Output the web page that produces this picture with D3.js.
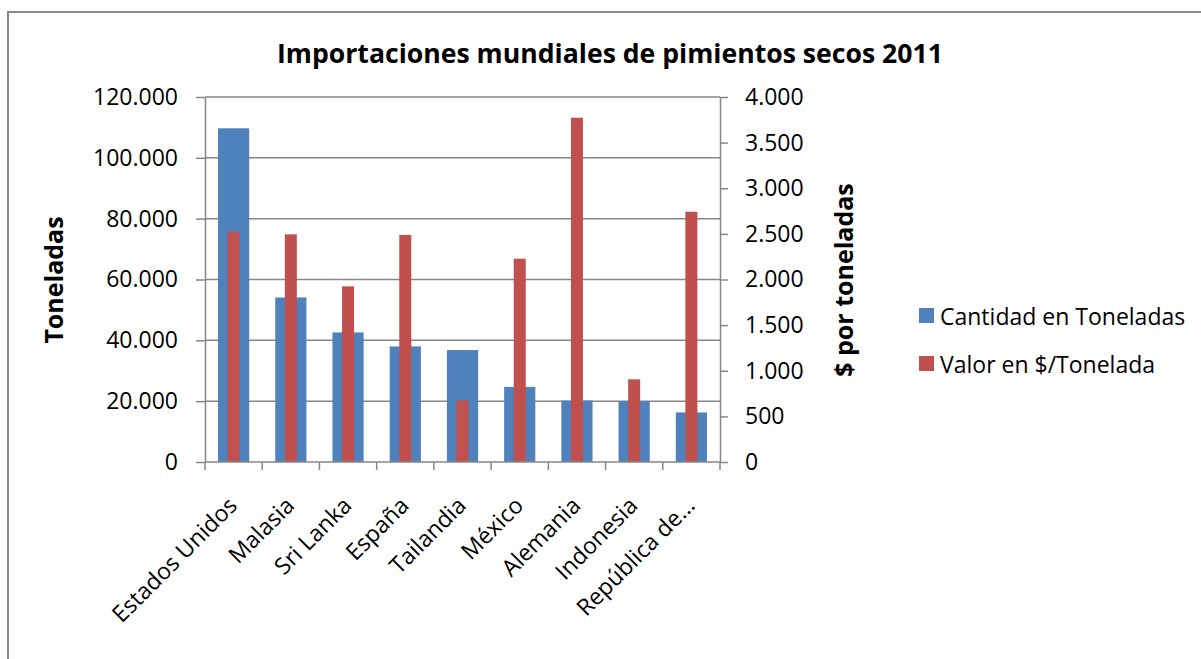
<!DOCTYPE html>
<html>
<head>
<meta charset="utf-8">
<script src="https://cdn.jsdelivr.net/npm/d3@7/dist/d3.min.js"></script>
<style>
  html, body { margin: 0; padding: 0; background: #fff; }
  svg { display: block; }
  text { font-family: "Open Sans", "Noto Sans", sans-serif; fill: #000; }
</style>
</head>
<body>
<svg id="chart" width="1201" height="659"></svg>
<script>
// ---- Data ----
const categories = ["Estados Unidos", "Malasia", "Sri Lanka", "España", "Tailandia", "México", "Alemania", "Indonesia", "República de..."];
const cantidadToneladas = [109700, 54100, 42600, 38000, 36800, 24700, 20200, 20000, 16300];
const valorPorTonelada = [2524, 2495, 1925, 2488, 676, 2228, 3773, 906, 2743];
const leftTicks = [0, 20000, 40000, 60000, 80000, 100000, 120000];
const rightTicks = [0, 500, 1000, 1500, 2000, 2500, 3000, 3500, 4000];
const seriesNames = ["Cantidad en Toneladas", "Valor en $/Tonelada"];
const title = "Importaciones mundiales de pimientos secos 2011";
const leftTitle = "Toneladas";
const rightTitle = "$ por toneladas";

// ---- Layout ----
const colors = ["#4F81BD", "#C0504D"];
const gridColor = "#878787";
const plot = { left: 205, right: 720, top: 97, bottom: 462 };

const svg = d3.select("#chart");
const loc = d3.formatLocale({ decimal: ",", thousands: ".", grouping: [3], currency: ["$", ""] });
const fmt = loc.format(",d");

// outer border
svg.append("rect")
  .attr("x", 8).attr("y", 12).attr("width", 1200).attr("height", 660)
  .attr("fill", "none").attr("stroke", gridColor).attr("stroke-width", 2);

const x = d3.scaleBand().domain(categories).range([plot.left, plot.right]).paddingInner(0).paddingOuter(0);
const yL = d3.scaleLinear().domain([0, 120000]).range([plot.bottom, plot.top]);
const yR = d3.scaleLinear().domain([0, 4000]).range([plot.bottom, plot.top]);

// gridlines
svg.append("g").selectAll("line")
  .data(leftTicks.filter(d => d > 0))
  .join("line")
  .attr("x1", plot.left).attr("x2", plot.right)
  .attr("y1", d => yL(d)).attr("y2", d => yL(d))
  .attr("stroke", gridColor).attr("stroke-width", 1.5);

// bars
const bw = x.bandwidth();
const blueW = bw * 0.545, redW = bw * 0.21;
svg.append("g").selectAll("rect")
  .data(categories)
  .join("rect")
  .attr("x", (d) => x(d) + (bw - blueW) / 2)
  .attr("width", blueW)
  .attr("y", (d, i) => yL(cantidadToneladas[i]))
  .attr("height", (d, i) => yL(0) - yL(cantidadToneladas[i]))
  .attr("fill", colors[0]);
svg.append("g").selectAll("rect")
  .data(categories)
  .join("rect")
  .attr("x", (d) => x(d) + (bw - redW) / 2)
  .attr("width", redW)
  .attr("y", (d, i) => yR(valorPorTonelada[i]))
  .attr("height", (d, i) => yR(0) - yR(valorPorTonelada[i]))
  .attr("fill", colors[1]);

function styleAxis(g) {
  g.selectAll("path.domain").attr("stroke", gridColor).attr("stroke-width", 1.5);
  g.selectAll(".tick line").attr("stroke", gridColor).attr("stroke-width", 1.5);
  g.selectAll(".tick text").attr("font-size", 23).attr("fill", "#000")
    .attr("font-family", '"Open Sans", sans-serif');
}

// left axis
const gL = svg.append("g").attr("transform", `translate(${plot.left},0)`)
  .call(d3.axisLeft(yL).tickValues(leftTicks).tickFormat(fmt).tickSizeInner(9).tickSizeOuter(0).tickPadding(18));
styleAxis(gL);

// right axis
const gR = svg.append("g").attr("transform", `translate(${plot.right},0)`)
  .call(d3.axisRight(yR).tickValues(rightTicks).tickFormat(fmt).tickSizeInner(8).tickSizeOuter(0).tickPadding(17));
styleAxis(gR);

// bottom axis (ticks at category boundaries)
const gB = svg.append("g").attr("transform", `translate(0,${plot.bottom})`);
gB.append("line").attr("x1", plot.left).attr("x2", plot.right).attr("y1", 0).attr("y2", 0)
  .attr("stroke", gridColor).attr("stroke-width", 1.5);
const boundaries = categories.map(c => x(c)).concat([x(categories[categories.length - 1]) + bw]);
gB.selectAll("line.tk").data(boundaries).join("line").attr("class", "tk")
  .attr("x1", d => d).attr("x2", d => d).attr("y1", 0).attr("y2", 8)
  .attr("stroke", gridColor).attr("stroke-width", 1.5);

// category labels
svg.append("g").selectAll("text")
  .data(categories)
  .join("text")
  .attr("transform", d => `translate(${x(d) + bw / 2 + 5},507) rotate(-45)`)
  .attr("text-anchor", "end")
  .attr("font-size", 23)
  .text(d => d);

// title
const t = svg.append("text")
  .attr("x", 277).attr("y", 63)
  .attr("font-size", 27).attr("font-weight", "bold")
  .text(title);
const tl = t.node().getComputedTextLength();
if (tl > 666) t.attr("textLength", 666).attr("lengthAdjust", "spacingAndGlyphs");

// axis titles
svg.append("text")
  .attr("transform", "translate(63,280) rotate(-90)")
  .attr("text-anchor", "middle")
  .attr("font-size", 25).attr("font-weight", "bold")
  .text(leftTitle);
svg.append("text")
  .attr("transform", "translate(853,280) rotate(-90)")
  .attr("text-anchor", "middle")
  .attr("font-size", 25).attr("font-weight", "bold")
  .text(rightTitle);

// legend
const legend = svg.append("g");
const ly = [308, 356];
seriesNames.forEach((name, i) => {
  legend.append("rect").attr("x", 919).attr("y", ly[i]).attr("width", 15).attr("height", 15).attr("fill", colors[i]);
  legend.append("text").attr("x", 940).attr("y", ly[i] + 16.5).attr("font-size", 23).text(name);
});
</script>
</body>
</html>
